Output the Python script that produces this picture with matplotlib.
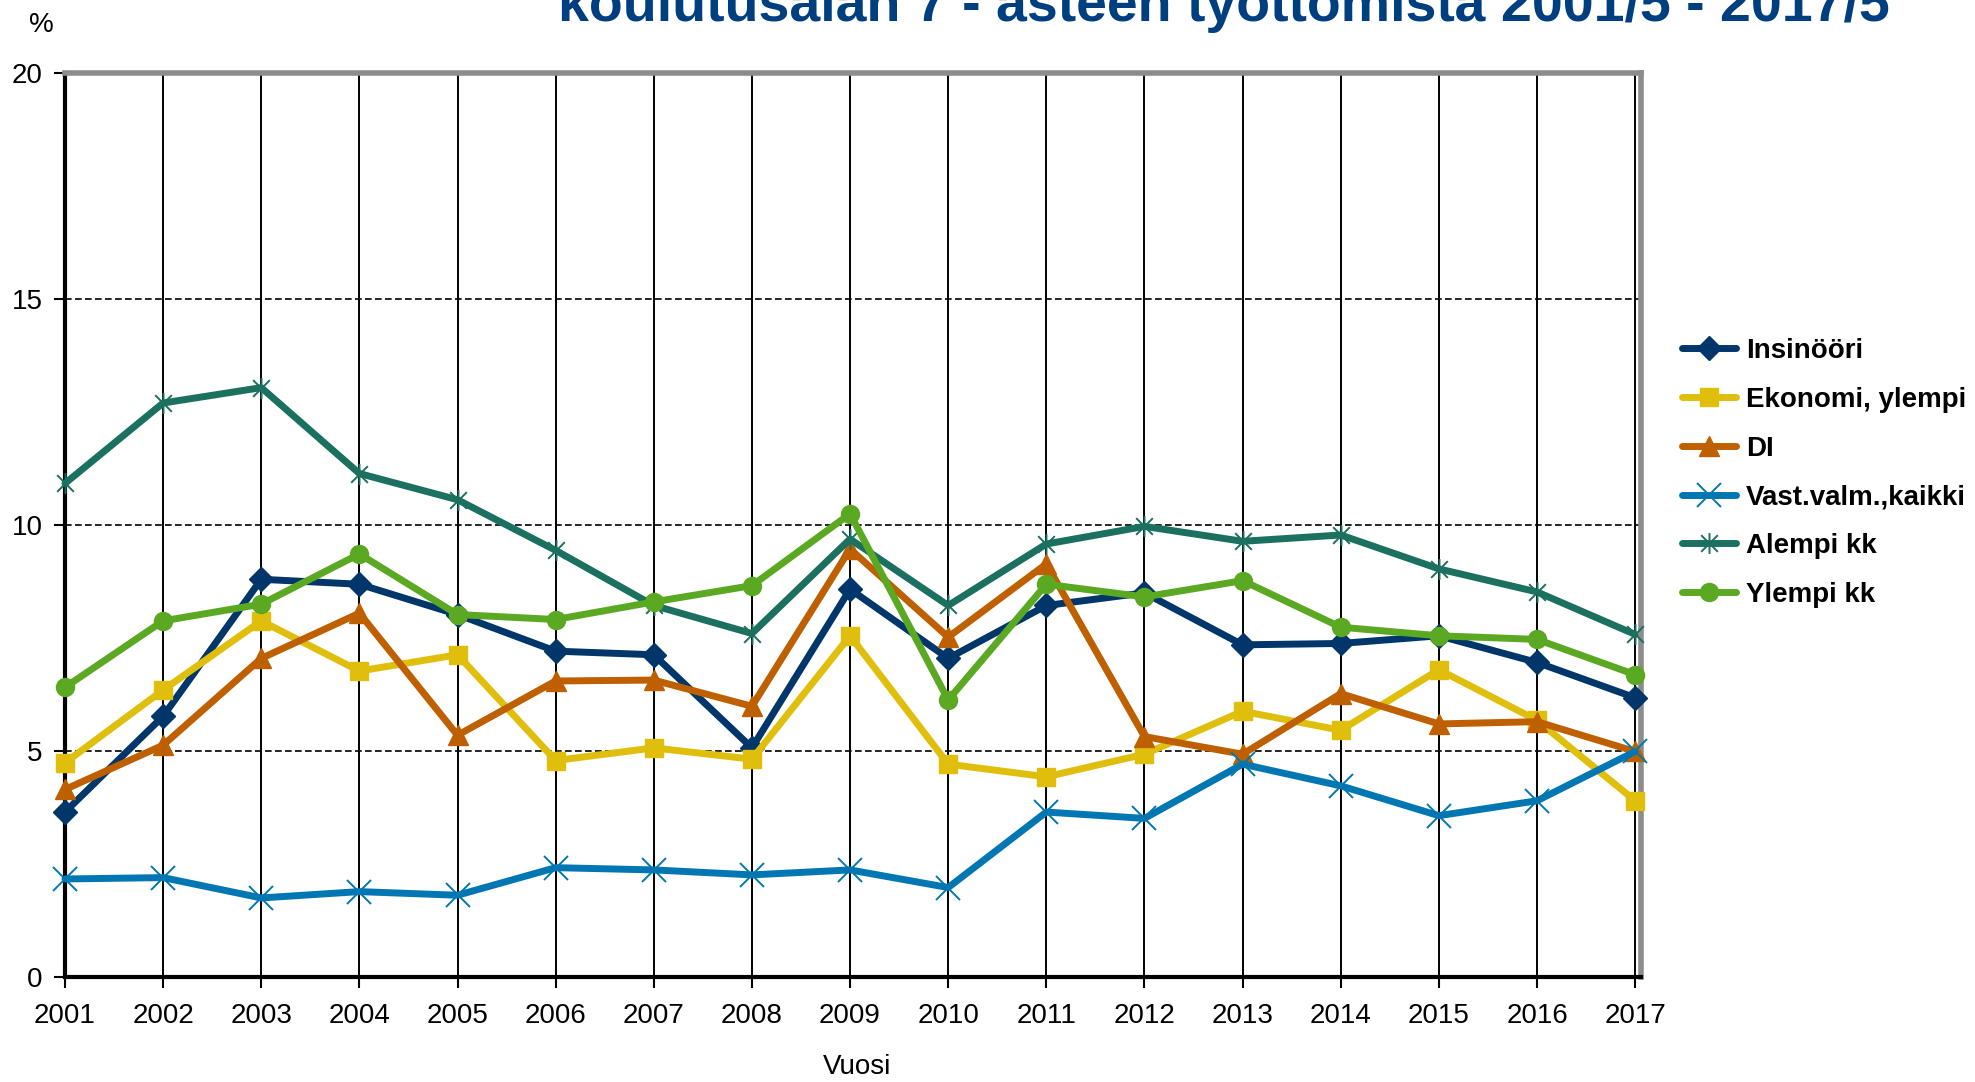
import matplotlib
matplotlib.use("Agg")
import matplotlib.pyplot as plt
from matplotlib.path import Path

plt.rcParams['font.family'] = ['Liberation Sans', 'DejaVu Sans']

years = list(range(2001, 2018))

insinoori = [3.65, 5.77, 8.80, 8.69, 8.02, 7.21, 7.13, 5.07, 8.58, 7.05,
             8.22, 8.50, 7.35, 7.38, 7.55, 6.96, 6.18]
ekonomi = [4.74, 6.35, 7.88, 6.77, 7.13, 4.79, 5.07, 4.82, 7.55, 4.71,
           4.43, 4.93, 5.88, 5.46, 6.80, 5.68, 3.90]
di = [4.15, 5.13, 7.05, 8.05, 5.35, 6.55, 6.57, 5.99, 9.47, 7.52,
      9.14, 5.32, 4.93, 6.27, 5.60, 5.65, 4.99]
vast_valm = [2.17, 2.20, 1.75, 1.89, 1.81, 2.42, 2.37, 2.26, 2.37, 1.98,
             3.65, 3.51, 4.71, 4.23, 3.57, 3.90, 4.99]
alempi_kk = [10.92, 12.70, 13.04, 11.14, 10.56, 9.44, 8.22, 7.60, 9.69, 8.22,
             9.58, 9.97, 9.64, 9.78, 9.03, 8.52, 7.58]
ylempi_kk = [6.41, 7.88, 8.25, 9.36, 8.02, 7.91, 8.30, 8.66, 10.25, 6.13,
             8.69, 8.41, 8.77, 7.74, 7.55, 7.47, 6.69]

labels = ['Insinööri', 'Ekonomi, ylempi', 'DI', 'Vast.valm.,kaikki',
          'Alempi kk', 'Ylempi kk']

# asterisk marker: an x with a vertical stroke through it
star = Path([(-1, -1), (1, 1), (-1, 1), (1, -1), (0, -1.25), (0, 1.25)],
            [Path.MOVETO, Path.LINETO, Path.MOVETO, Path.LINETO,
             Path.MOVETO, Path.LINETO])

series = [
    (insinoori, '#003669', 'D', 12, 1),
    (ekonomi, '#E0BF0C', 's', 13, 1),
    (di, '#BF6000', '^', 14, 1),
    (vast_valm, '#0077B3', 'x', 17, 1.4),
    (alempi_kk, '#1B705F', star, 15, 1.4),
    (ylempi_kk, '#5BA823', 'o', 13, 1),
]

fig = plt.figure(figsize=(19.75, 10.82), dpi=100)
ax = fig.add_axes([0.0329, 0.097, 0.798, 0.8355])

for (vals, col, mk, ms, mew), lab in zip(series, labels):
    ax.plot(years, vals, color=col, lw=5, marker=mk, markersize=ms,
            markerfacecolor=col, markeredgecolor=col, markeredgewidth=mew,
            label=lab, zorder=3, clip_on=False, solid_capstyle='round')

ax.set_xlim(2001, 2017.06)
ax.set_ylim(0, 20)
ax.set_xticks(years)
ax.set_yticks([0, 5, 10, 15, 20])
ax.tick_params(axis='both', labelsize=20, length=8, width=1.5, direction='out')
ax.tick_params(axis='x', pad=11)
ax.tick_params(axis='y', pad=8)

for yr in years:
    ax.axvline(yr, color='black', lw=1.4, zorder=1)
for yv in [5, 10, 15]:
    ax.axhline(yv, color='black', lw=1.2, ls=(0, (4, 2)), zorder=1)

ax.spines['left'].set_color('black')
ax.spines['left'].set_linewidth(3)
ax.spines['bottom'].set_color('black')
ax.spines['bottom'].set_linewidth(3)
ax.spines['top'].set_color('#8C8C8C')
ax.spines['top'].set_linewidth(4)
ax.spines['right'].set_color('#8C8C8C')
ax.spines['right'].set_linewidth(4)

fig.text(0.021, 0.977, '%', fontsize=20, ha='center', va='center')
fig.text(0.434, 0.014, 'Vuosi', fontsize=20, ha='center', va='center')
fig.text(0.957, 0.981, 'koulutusalan 7 - asteen työttömistä 2001/5 - 2017/5',
         fontsize=40, fontweight='bold', color='#003F7F', ha='right',
         va='baseline')

leg = fig.legend(loc='center left', bbox_to_anchor=(0.8516, 0.5628),
                 frameon=False, borderpad=0, borderaxespad=0,
                 handlelength=1.95, handletextpad=0.35, labelspacing=0.82,
                 prop={'size': 20, 'weight': 'bold'})

fig.savefig('out.png', dpi=100)
